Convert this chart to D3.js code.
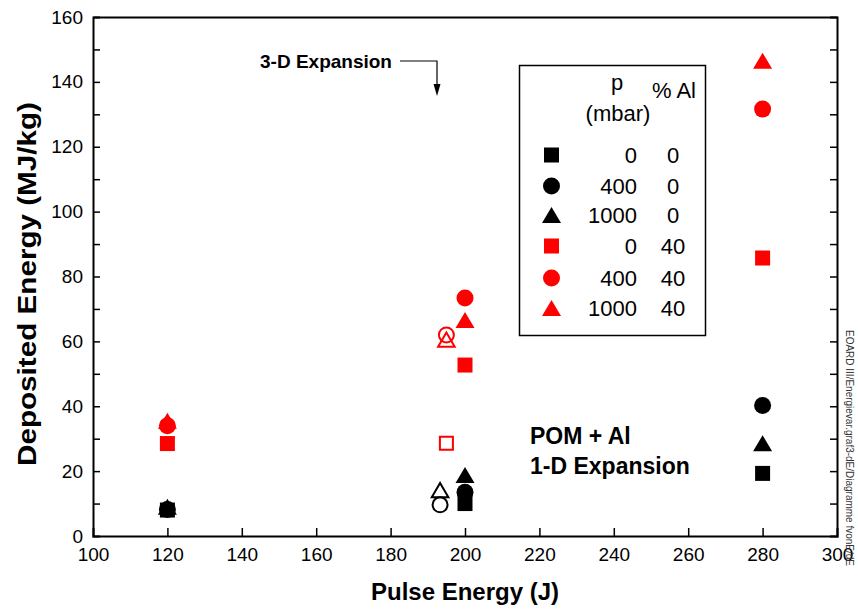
<!DOCTYPE html>
<html><head><meta charset="utf-8">
<script src="https://cdn.jsdelivr.net/npm/d3@7"></script>
<style>
body{margin:0;background:#fff;}
text{font-family:"Liberation Sans",Arial,sans-serif;}
</style></head>
<body><svg id="c" width="858" height="610"></svg>
<script>
// ---- data ----
const xTicks = [100,120,140,160,180,200,220,240,260,280,300];
const yTicks = [0,20,40,60,80,100,120,140,160];
const legendPressure = ["0","400","1000","0","400","1000"];
const legendAl = ["0","0","0","40","40","40"];
const seriesShape = ["square","circle","triangle","square","circle","triangle"];
const seriesColor = ["#000","#000","#000","#ff0000","#ff0000","#ff0000"];
// 1-D expansion (filled) values: [pulse energy J, deposited MJ/kg]
const blackSquare = [[120,8.0],[200,10.0],[280,19.3]];
const blackCircle = [[120,8.2],[200,13.5],[280,40.2]];
const blackTriangle = [[120,9.0],[200,18.8],[280,28.6]];
const redSquare = [[120,28.5],[200,52.7],[280,85.7]];
const redCircle = [[120,34.0],[200,73.4],[280,131.6]];
const redTriangle = [[120,35.5],[200,66.6],[280,146.5]];
// 3-D expansion (open) values
const openBlackCircle = [[193.3,9.6]];
const openBlackTriangle = [[193.3,14.2]];
const openRedSquare = [[195,28.6]];
const openRedCircle = [[195,62.0]];
const openRedTriangle = [[195,60.6]];

const svg = d3.select("#c");
const L=93,R=837,T=17,B=536;
const x = d3.scaleLinear().domain([100,300]).range([L,R]);
const y = d3.scaleLinear().domain([0,160]).range([B,T]);

function shapePath(shape){
  if(shape==="square") return "M-7.5,-7.5H7.5V7.5H-7.5Z";
  if(shape==="circle") return d3.arc()({innerRadius:0,outerRadius:8.5,startAngle:0,endAngle:2*Math.PI});
  return "M0,-8L9.5,8H-9.5Z";
}
function openPath(shape){
  if(shape==="square") return "M-6.5,-6.5H6.5V6.5H-6.5Z";
  if(shape==="circle") return d3.arc()({innerRadius:0,outerRadius:7.5,startAngle:0,endAngle:2*Math.PI});
  return "M0,-7L8.3,7.2H-8.3Z";
}

// axes
const gx = svg.append("g").attr("transform",`translate(0,${B})`)
  .call(d3.axisBottom(x).tickValues(xTicks).tickSize(-8).tickPadding(12).tickFormat(d3.format("d")));
const gxt = svg.append("g").attr("transform",`translate(0,${T})`)
  .call(d3.axisTop(x).tickValues([]).tickSize(0));
const yMinor = d3.range(0,161,10);
const gy = svg.append("g").attr("transform",`translate(${L},0)`)
  .call(d3.axisLeft(y).tickValues(yMinor).tickSize(-7).tickPadding(10)
    .tickFormat(d=> yTicks.includes(d)? d3.format("d")(d):""));
const gyr = svg.append("g").attr("transform",`translate(${R},0)`)
  .call(d3.axisRight(y).tickValues(yMinor).tickSize(-7).tickFormat(""));
[gx,gxt,gy,gyr].forEach(g=>{
  g.select(".domain").attr("stroke","#000").attr("stroke-width",2);
  g.selectAll(".tick line").attr("stroke","#000").attr("stroke-width",1.5);
  g.selectAll(".tick text").attr("font-size",19).attr("fill","#000")
   .style("font-family",'"Liberation Sans",Arial,sans-serif');
});
gx.selectAll(".tick").filter(d=>d===100||d===300).select("line").remove();
gy.selectAll(".tick").filter(d=>d===0||d===160).select("line").remove();
gyr.selectAll(".tick").filter(d=>d===0||d===160).select("line").remove();

// axis titles
svg.append("text").attr("x",(L+R)/2).attr("y",600).attr("text-anchor","middle")
  .attr("font-size",24).attr("font-weight","bold").text("Pulse Energy (J)");
svg.append("text").attr("transform",`translate(36,284) rotate(-90)`).attr("text-anchor","middle")
  .attr("font-size",26).attr("font-weight","bold")
  .attr("textLength",364).attr("lengthAdjust","spacingAndGlyphs")
  .text("Deposited Energy (MJ/kg)");

// side note
svg.append("text").attr("transform","translate(846,330) rotate(90)").attr("font-size",10).attr("fill","#333")
  .attr("textLength",236).attr("lengthAdjust","spacingAndGlyphs")
  .text("EOARD III/Energievar.graf3-dE/Diagramme fvonE/dE");

// filled series
const filled = [blackSquare,blackCircle,blackTriangle,redSquare,redCircle,redTriangle];
filled.forEach((data,i)=>{
  svg.append("g").selectAll("path").data(data).join("path")
    .attr("transform",d=>`translate(${x(d[0])},${y(d[1])})`)
    .attr("d",shapePath(seriesShape[i])).attr("fill",seriesColor[i]);
});
// open series
const openSeries = [
  {data:openBlackCircle,shape:"circle",color:"#000"},
  {data:openBlackTriangle,shape:"triangle",color:"#000"},
  {data:openRedSquare,shape:"square",color:"#ff0000"},
  {data:openRedCircle,shape:"circle",color:"#ff0000"},
  {data:openRedTriangle,shape:"triangle",color:"#ff0000"}];
openSeries.forEach(s=>{
  svg.append("g").selectAll("path").data(s.data).join("path")
    .attr("transform",d=>`translate(${x(d[0])},${y(d[1])})`)
    .attr("d",openPath(s.shape)).attr("fill","none").attr("stroke",s.color).attr("stroke-width",2);
});

// annotation
svg.append("text").attr("x",260).attr("y",68).attr("font-size",19).attr("font-weight","bold").text("3-D Expansion");
svg.append("path").attr("d","M400,61H437V86").attr("fill","none").attr("stroke","#000").attr("stroke-width",1.2);
svg.append("path").attr("d","M433.5,84L440.5,84L437,96Z").attr("fill","#000");

svg.append("text").attr("x",530).attr("y",444).attr("font-size",23).attr("font-weight","bold").text("POM + Al");
svg.append("text").attr("x",530).attr("y",474).attr("font-size",23).attr("font-weight","bold").text("1-D Expansion");

// legend
const lg = svg.append("g");
lg.append("rect").attr("x",519.5).attr("y",65.5).attr("width",186).attr("height",270)
  .attr("fill","#fff").attr("stroke","#000").attr("stroke-width",1.5);
lg.append("text").attr("x",617).attr("y",90).attr("text-anchor","middle").attr("font-size",22).text("p");
lg.append("text").attr("x",618).attr("y",121).attr("text-anchor","middle").attr("font-size",22).text("(mbar)");
lg.append("text").attr("x",674).attr("y",98).attr("text-anchor","middle").attr("font-size",22).text("% Al");
const rowY = [155,186,215,246,278,308];
rowY.forEach((ry,i)=>{
  lg.append("path").attr("transform",`translate(551.5,${ry})`).attr("d",shapePath(seriesShape[i])).attr("fill",seriesColor[i]);
  lg.append("text").attr("x",637).attr("y",ry+8).attr("text-anchor","end").attr("font-size",22).text(legendPressure[i]);
  lg.append("text").attr("x",673).attr("y",ry+8).attr("text-anchor","middle").attr("font-size",22).text(legendAl[i]);
});
</script></body></html>
